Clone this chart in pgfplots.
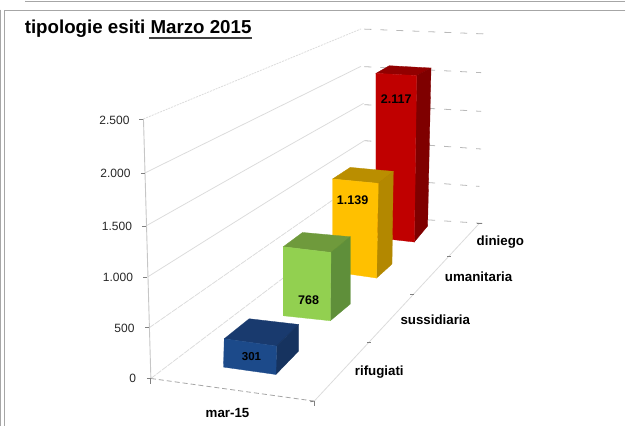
\documentclass[border=0pt]{standalone}
\usepackage{fontspec}
\setmainfont{Liberation Sans}
\usepackage{pgfplots}
\pgfplotsset{compat=1.18}
\definecolor{gl}{HTML}{DCDCDC}
\definecolor{fr}{HTML}{A6A6A6}
\definecolor{rf}{HTML}{C00000}\definecolor{rs}{HTML}{7F0000}\definecolor{rt}{HTML}{920000}
\definecolor{yf}{HTML}{FFC000}\definecolor{ys}{HTML}{B38800}\definecolor{yt}{HTML}{BA8E00}
\definecolor{gf}{HTML}{92D050}\definecolor{gs}{HTML}{5F8F3A}\definecolor{gt}{HTML}{6F9A3C}
\definecolor{bf}{HTML}{1C4A8A}\definecolor{bs}{HTML}{16335F}\definecolor{bt}{HTML}{193A6E}
% face of a bar: colour, value, rows "x base pxPerUnit" (pixel position of a vertex and its scale at that depth)
\newcommand{\barface}[3]{\addplot[fill=#1,draw=#1,line width=0.3pt,forget plot] table[row sep=\\,x=x,y expr=\thisrow{b}-\thisrow{s}*#2]{x b s\\ #3} --cycle;}
\newcommand{\gline}[5][]{\addplot[gl,line width=0.8pt,forget plot,#1] coordinates {(#2,#3) (#4,#5)};}
\newcommand{\fs}[1]{\fontsize{#1}{#1}\selectfont}
\begin{document}
\begin{tikzpicture}
\begin{axis}[
  name=a,
  scale only axis, width=626pt, height=425pt,
  xmin=0, xmax=626, ymin=0, ymax=425, y dir=reverse,
  hide axis, clip=false,
]
% frame
\addplot[fr,line width=1.2pt,forget plot] coordinates {(26,0) (26,1) (626,1)};
\addplot[fr,line width=1.2pt,forget plot] coordinates {(626,10) (5,10) (5,425)};
\addplot[fr,line width=1.2pt,forget plot] coordinates {(1.5,9) (1.5,425)};
% side wall grid
\gline[dash pattern=on 2pt off 1pt]{144.3}{118.3}{361.7}{28.3}
\gline{145.7}{172.3}{361.7}{65.7}
\gline{146.7}{225.3}{364.3}{102.7}
\gline{148.3}{276.3}{365}{140}
\gline[dash pattern=on 6pt off 1pt]{150}{327}{365.5}{177}
\gline[dash pattern=on 6pt off 1pt]{151.7}{377.7}{366}{215}
% back wall grid
\gline[dash pattern=on 7pt off 9pt,gray!55]{365}{28.5}{485}{33.3}
\gline[dash pattern=on 7pt off 9pt,gray!55]{365}{66}{481.7}{72}
\gline[dash pattern=on 7pt off 9pt,gray!55]{365}{104}{481.7}{110.7}
\gline[dash pattern=on 7pt off 9pt,gray!55]{365}{140}{481.7}{148.3}
\gline[dash pattern=on 7pt off 9pt,gray!55]{365}{177}{480}{185.7}
\gline[dash pattern=on 7pt off 9pt,gray!55]{365}{215}{483}{222.7}
% value axis
\addplot[gl!90!black,line width=0.9pt,forget plot] coordinates {(144.3,118.3) (151.7,377.7)};
% floor edges
\gline[dash pattern=on 5pt off 3pt,gray!70]{151.7}{377.7}{315}{400.3}
\gline{315}{400.3}{480}{222.7}
% ticks
\gline[gray]{140.3}{118.3}{144.3}{118.3}
\gline[gray]{141.7}{172.3}{145.7}{172.3}
\gline[gray]{142.7}{225.3}{146.7}{225.3}
\gline[gray]{144.3}{276.3}{148.3}{276.3}
\gline[gray]{146}{327}{150}{327}
\gline[gray]{147.7}{377.7}{151.7}{377.7}
\gline[gray]{151.7}{377.7}{151.7}{383}
\gline[gray]{311}{401}{315}{400.3}
\gline[gray]{315}{400.3}{315}{405}
\gline[gray]{368}{342}{372}{342}
\gline[gray]{411}{294}{415}{294}
\gline[gray]{448}{256}{452}{256}
\gline[gray]{478}{222.7}{483}{222.7}
% diniego: 2117
\barface{rt}{2117}{376.7 237 .0776\\ 417.3 241.3 .0786\\ 431.7 225.3 .0746\\ 390 223 .0746\\}
\barface{rs}{2117}{417.3 241.3 .0786\\ 431.7 225.3 .0746\\ 428.3 225.3 0\\ 415 241.3 0\\}
\barface{rf}{2117}{376.7 237 .0776\\ 417.3 241.3 .0786\\ 415 241.3 0\\ 376.7 237 0\\}
% umanitaria: 1139
\barface{yt}{1139}{333.3 271 .0814\\ 379 277.3 .0831\\ 394 263.3 .0813\\ 351 259.3 .0813\\}
\barface{ys}{1139}{379 277.3 .0831\\ 394 263.3 .0813\\ 392.7 263.3 0\\ 377.3 277.3 0\\}
\barface{yf}{1139}{333.3 271 .0814\\ 379 277.3 .0831\\ 377.3 277.3 0\\ 333.3 271 0\\}
% sussidiaria: 768
\barface{gt}{768}{284 315 .0898\\ 331.7 320 .0889\\ 351 303.3 .0876\\ 303.3 299 .0876\\}
\barface{gs}{768}{331.7 320 .0889\\ 351 303.3 .0876\\ 351 303.3 0\\ 331 320 0\\}
\barface{gf}{768}{284 315 .0898\\ 331.7 320 .0889\\ 331 320 0\\ 284 315 0\\}
% rifugiati: 301
\barface{bt}{301}{225 366.3 .0940\\ 277.3 373.7 .0944\\ 299.3 350.3 .0884\\ 250 344.6 .0884\\}
\barface{bs}{301}{277.3 373.7 .0944\\ 299.3 350.3 .0884\\ 299.3 350.3 0\\ 276.7 373.7 0\\}
\barface{bf}{301}{225 366.3 .0940\\ 277.3 373.7 .0944\\ 276.7 373.7 0\\ 224.3 366.3 0\\}
% texts
\node[anchor=base west,inner sep=0pt,font=\fs{18.7}\bfseries] at (25.5,33) {tipologie esiti Marzo 2015};
\addplot[black!75,line width=1.4pt,forget plot] coordinates {(150,37.5) (253,37.5)};
\node[anchor=east,inner sep=0pt,font=\fs{12},text=black!85] at (130.5,119.5) {2.500};
\node[anchor=east,inner sep=0pt,font=\fs{12},text=black!85] at (131.5,173) {2.000};
\node[anchor=east,inner sep=0pt,font=\fs{12},text=black!85] at (133,226) {1.500};
\node[anchor=east,inner sep=0pt,font=\fs{12},text=black!85] at (134,277) {1.000};
\node[anchor=east,inner sep=0pt,font=\fs{12},text=black!85] at (135.5,328) {500};
\node[anchor=east,inner sep=0pt,font=\fs{12},text=black!85] at (137,378) {0};
\node[font=\fs{13.3}\bfseries,inner sep=0pt] at (501,241.3) {diniego};
\node[font=\fs{13.3}\bfseries,inner sep=0pt] at (479.3,276) {umanitaria};
\node[font=\fs{13.3}\bfseries,inner sep=0pt] at (436,319.3) {sussidiaria};
\node[font=\fs{13.3}\bfseries,inner sep=0pt] at (380,371) {rifugiati};
\node[font=\fs{13.3}\bfseries,inner sep=0pt] at (228.3,412) {mar-15};
\node[font=\fs{12.5}\bfseries,inner sep=0pt] at (397,98) {2.117};
\node[font=\fs{12.5}\bfseries,inner sep=0pt] at (353.3,200) {1.139};
\node[font=\fs{12.5}\bfseries,inner sep=0pt] at (309.3,299.3) {768};
\node[font=\fs{11.5}\bfseries,inner sep=0pt] at (252.3,355.3) {301};
\end{axis}
\end{tikzpicture}
\end{document}
